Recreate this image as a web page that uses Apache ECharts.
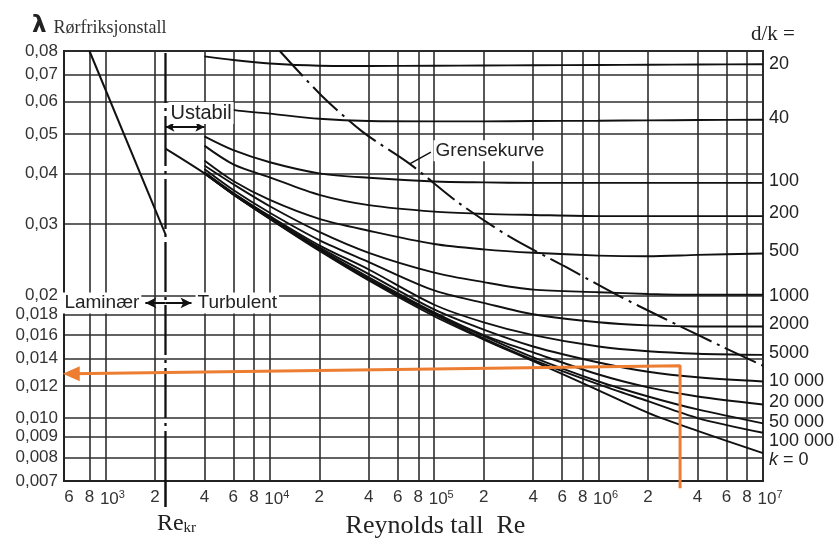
<!DOCTYPE html>
<html>
<head>
<meta charset="utf-8">
<script src="https://cdn.jsdelivr.net/npm/echarts@6/dist/echarts.min.js"></script>
<style>html,body{margin:0;padding:0;background:#fff}#c{width:839px;height:544px}</style>
</head>
<body>
<div id="c"></div>
<script>
// ---------- data ----------
const reGrid = [4000, 6000, 1e4, 2e4, 4e4, 1e5, 2e5, 4e5, 1e6, 2e6, 4e6, 1e7];
const dkNames = ['20', '40', '100', '200', '500', '1000', '2000', '5000', '10 000', '20 000', '50 000', '100 000'];
const lam20     = [0.0776, 0.0760, 0.0745, 0.0736, 0.0735, 0.0736, 0.0737, 0.0738, 0.0739, 0.0740, 0.0741, 0.0742];
const lam40     = [0.0598, 0.0573, 0.0561, 0.0545, 0.0538, 0.0537, 0.0537, 0.0538, 0.0539, 0.0540, 0.0541, 0.0542];
const lam100    = [0.0493, 0.0456, 0.0426, 0.0400, 0.0390, 0.0382, 0.0380, 0.0379, 0.0379, 0.0379, 0.0379, 0.0379];
const lam200    = [0.0468, 0.0421, 0.0391, 0.0354, 0.0334, 0.0322, 0.0318, 0.0316, 0.0314, 0.0314, 0.0314, 0.0314];
const lam500    = [0.0430, 0.0383, 0.0344, 0.0309, 0.0289, 0.0268, 0.0260, 0.0255, 0.0251, 0.0250, 0.0252, 0.0254];
const lam1000   = [0.0418, 0.0376, 0.0332, 0.0287, 0.0255, 0.0228, 0.0216, 0.0207, 0.0204, 0.0202, 0.0201, 0.0201];
const lam2000   = [0.0410, 0.0364, 0.0320, 0.0274, 0.0242, 0.0206, 0.0192, 0.0180, 0.0172, 0.0169, 0.0168, 0.0168];
const lam5000   = [0.0403, 0.0358, 0.0314, 0.0266, 0.0232, 0.0190, 0.0172, 0.0160, 0.0150, 0.0146, 0.0144, 0.0143];
const lam10000  = [0.0401, 0.0357, 0.0312, 0.0263, 0.0226, 0.0185, 0.0165, 0.0150, 0.0137, 0.0130, 0.0126, 0.0123];
const lam20000  = [0.0400, 0.0356, 0.0311, 0.0261, 0.0222, 0.0182, 0.0160, 0.0145, 0.0128, 0.0119, 0.0113, 0.0108];
const lam50000  = [0.0400, 0.0355, 0.0310, 0.0260, 0.0220, 0.0181, 0.0159, 0.0141, 0.0123, 0.0113, 0.0105, 0.0097];
const lam100000 = [0.0400, 0.0355, 0.0310, 0.0259, 0.0219, 0.0180, 0.0157, 0.0139, 0.0121, 0.0110, 0.0100, 0.0092];
const reSmooth  = [2320, 4000, 6000, 1e4, 2e4, 4e4, 1e5, 2e5, 4e5, 1e6, 2e6, 4e6, 1e7];
const lamSmooth = [0.0460, 0.0400, 0.0355, 0.0309, 0.0258, 0.0218, 0.0178, 0.0156, 0.0138, 0.0117, 0.0103, 0.0093, 0.0082];
const reLaminar  = [800, 2320];
const lamLaminar = [0.08, 0.0283];
const reGrense  = [11500, 20600, 36700, 71000, 143000, 289000, 624000, 1260000, 2420000, 5620000, 10000000];
const lamGrense = [0.08, 0.0622, 0.0506, 0.0422, 0.0337, 0.0279, 0.0236, 0.0202, 0.0177, 0.0150, 0.01345];
const reKr = 2320;
const reTicks = [800, 1000, 2000, 4000, 6000, 8000, 1e4, 2e4, 4e4, 6e4, 8e4, 1e5, 2e5, 4e5, 6e5, 8e5, 1e6, 2e6, 4e6, 6e6, 8e6, 1e7];
const reLabelValues = [600, 800, 1000, 2000, 4000, 6000, 8000, 1e4, 2e4, 4e4, 6e4, 8e4, 1e5, 2e5, 4e5, 6e5, 8e5, 1e6, 2e6, 4e6, 6e6, 8e6, 1e7];
const lamTicks  = [0.007, 0.008, 0.009, 0.010, 0.012, 0.014, 0.016, 0.018, 0.02, 0.03, 0.04, 0.05, 0.06, 0.07, 0.08];
const lamLabels = ['0,007', '0,008', '0,009', '0,010', '0,012', '0,014', '0,016', '0,018', '0,02', '0,03', '0,04', '0,05', '0,06', '0,07', '0,08'];
// annotation lines (Re, λ)
const ustabil = {re: [2320, 4000], lam: 0.052};
const lamTurb = {re: [1750, 2320, 3340], lam: 0.0192};
const grenseLeader = {re: [71000, 95500], lam: [0.0422, 0.0451]};
const orangeRe  = [3.13e6, 3.13e6, 620];
const orangeLam = [0.00672, 0.01345, 0.01285];

// ---------- chart ----------
const SANS = 'Liberation Sans, Arial, sans-serif';
const SERIF = 'Liberation Serif, Times New Roman, serif';
const INK = '#111';
const pairs = (xs, ys) => xs.map((x, i) => [x, ys[i]]);

function reLabel(v) {
  const e = Math.round(Math.log10(v));
  if (Math.abs(v - Math.pow(10, e)) / v < 1e-9) return '{b|10}{s|' + e + '}';
  return String(Math.round(v / Math.pow(10, Math.floor(Math.log10(v) + 1e-9))));
}
function lamLabel(v) {
  const i = lamTicks.findIndex(t => Math.abs(t - v) / t < 1e-6);
  return i >= 0 ? lamLabels[i] : '';
}

const curveData = [lam20, lam40, lam100, lam200, lam500, lam1000, lam2000, lam5000, lam10000, lam20000, lam50000, lam100000];
const labelOffsets = [0, -2, -2, -3, -2, 1, -2, -2, 0, -2, -1, 8];

const series = curveData.map((arr, i) => ({
  type: 'line', name: dkNames[i], data: pairs(reGrid, arr),
  smooth: 0.3, symbol: 'none', silent: true,
  lineStyle: {color: INK, width: 1.9},
  endLabel: {show: true, formatter: dkNames[i], color: '#222', fontSize: 18, fontFamily: SANS, distance: 6, offset: [0, labelOffsets[i]]}
}));

series.push({
  type: 'line', name: 'k = 0', data: pairs(reSmooth, lamSmooth),
  smooth: 0.3, symbol: 'none', silent: true,
  lineStyle: {color: INK, width: 1.9},
  endLabel: {show: true, formatter: '{i|k} = 0', color: '#222', fontSize: 18, fontFamily: SANS, distance: 6, offset: [0, 7],
    rich: {i: {fontStyle: 'italic', fontSize: 18, fontFamily: SANS, color: '#222'}}}
});

series.push({
  type: 'line', name: 'Laminær', data: pairs(reLaminar, lamLaminar),
  symbol: 'none', silent: true, lineStyle: {color: INK, width: 2}
});

series.push({
  type: 'line', name: 'Grensekurve', data: pairs(reGrense, lamGrense),
  smooth: 0.3, symbol: 'none', silent: true,
  lineStyle: {color: INK, width: 2, type: [34, 6, 3, 6]},
  markLine: {
    silent: true, animation: false, symbol: 'none',
    lineStyle: {color: INK, width: 1.5, type: 'solid'},
    data: [[
      {coord: [grenseLeader.re[0], grenseLeader.lam[0]],
       label: {show: true, position: 'end', formatter: 'Grensekurve', fontSize: 19, fontFamily: SANS, color: '#222',
               backgroundColor: '#fff', padding: [1, 2], distance: 3}},
      {coord: [grenseLeader.re[1], grenseLeader.lam[1]]}
    ]]
  }
});

const annoLabel = {fontSize: 19, fontFamily: SANS, color: '#222', backgroundColor: '#fff', padding: [1, 2]};
series.push({
  type: 'line', name: 'Re_kr', data: [[reKr, 0.007], [reKr, 0.08]],
  symbol: 'none', silent: true,
  lineStyle: {color: INK, width: 2.3, type: [50, 5, 3, 5]},
  markLine: {
    silent: true, animation: false, symbol: 'none',
    lineStyle: {color: INK, width: 2, type: 'solid'},
    data: [
      [{coord: [ustabil.re[0], ustabil.lam], symbol: 'arrow', symbolSize: [7, 9],
        label: Object.assign({show: true, position: 'insideStartTop', formatter: 'Ustabil', distance: 3}, annoLabel, {fontSize: 20})},
       {coord: [ustabil.re[1], ustabil.lam], symbol: 'arrow', symbolSize: [7, 9]}],
      [{coord: [lamTurb.re[1], lamTurb.lam], symbol: 'none',
        label: Object.assign({show: true, position: 'end', formatter: 'Laminær', distance: 4}, annoLabel)},
       {coord: [lamTurb.re[0], lamTurb.lam], symbol: 'arrow', symbolSize: [8, 11]}],
      [{coord: [lamTurb.re[1], lamTurb.lam], symbol: 'none',
        label: Object.assign({show: true, position: 'end', formatter: 'Turbulent', distance: 4}, annoLabel)},
       {coord: [lamTurb.re[2], lamTurb.lam], symbol: 'arrow', symbolSize: [8, 11]}]
    ]
  }
});

const orangeData = pairs(orangeRe, orangeLam);
orangeData[orangeData.length - 1] = {value: orangeData[orangeData.length - 1], symbol: 'triangle', symbolSize: [15, 17], symbolRotate: 90};
series.push({
  type: 'line', name: 'markering', data: orangeData, clip: false, silent: true,
  symbol: 'none', showSymbol: true, showAllSymbol: true,
  itemStyle: {color: '#ED7D31'},
  lineStyle: {color: '#ED7D31', width: 3}, z: 10
});

const gridLine = {show: true, lineStyle: {color: '#2e2e2e', width: 1.6, type: 'solid'}};

const option = {
  animation: false,
  backgroundColor: '#fff',
  title: {
    text: '{l|λ} {t|Rørfriksjonstall}', left: 27, top: 10,
    textStyle: {fontWeight: 'normal', rich: {
      l: {fontSize: 23, fontWeight: 'bold', fontFamily: 'DejaVu Sans, sans-serif', color: '#222'},
      t: {fontSize: 18, fontWeight: 'normal', fontFamily: SERIF, color: '#333', padding: [3, 0, 0, 2]}
    }}
  },
  grid: {left: 64, right: 76, top: 51, bottom: 63, show: true, borderColor: '#222', borderWidth: 2, containLabel: false},
  xAxis: [{
    type: 'log', min: 560, max: 1e7,
    axisLine: {show: true, lineStyle: {color: '#222', width: 2}},
    axisTick: {show: false, customValues: reTicks},
    splitLine: gridLine,
    axisLabel: {customValues: reLabelValues, formatter: reLabel, margin: 8, color: '#333', fontSize: 17, fontFamily: SANS,
      rich: {b: {fontSize: 17, fontFamily: SANS, color: '#333', padding: [0, 0, 0, 14]},
             s: {fontSize: 11, fontFamily: SANS, color: '#333', padding: [0, 0, 10, 0]}}},
    name: 'Reynolds tall  Re', nameLocation: 'middle', nameGap: 31,
    nameTextStyle: {fontFamily: SERIF, fontSize: 26, color: '#222', padding: [0, 0, 0, 44]}
  }, {
    type: 'log', min: 560, max: 1e7, position: 'bottom',
    axisLine: {show: false}, splitLine: {show: false},
    axisTick: {show: true, customValues: [reKr], length: 26, lineStyle: {color: INK, width: 2.5}},
    axisLabel: {customValues: [reKr], formatter: () => '{r|Re}{k|kr}', margin: 31, padding: [0, 0, 0, 22],
      rich: {r: {fontSize: 24, fontFamily: SERIF, color: '#222'},
             k: {fontSize: 15, fontFamily: SERIF, color: '#222', padding: [8, 0, 0, 0]}}}
  }],
  yAxis: [{
    type: 'log', min: 0.007, max: 0.08,
    axisLine: {show: true, lineStyle: {color: '#222', width: 2}},
    axisTick: {show: false, customValues: lamTicks},
    splitLine: gridLine,
    axisLabel: {customValues: lamTicks, formatter: lamLabel, margin: 6, color: '#333', fontSize: 17, fontFamily: SANS}
  }, {
    type: 'log', min: 0.007, max: 0.08, position: 'right',
    axisLine: {show: false}, axisTick: {show: false}, axisLabel: {show: false}, splitLine: {show: false},
    name: 'd/k =', nameLocation: 'end', nameGap: 6,
    nameTextStyle: {fontFamily: SERIF, fontSize: 21, color: '#222', padding: [0, 0, 0, 20]}
  }],
  series: series
};

const chart = echarts.init(document.getElementById('c'), null, {renderer: 'canvas'});
chart.setOption(option);
</script>
</body>
</html>
